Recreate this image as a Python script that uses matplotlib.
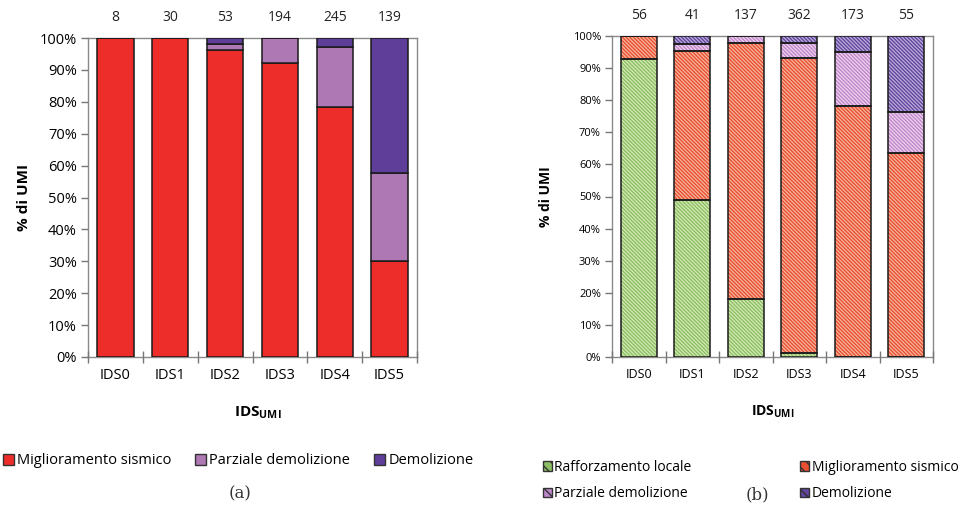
import matplotlib
matplotlib.use("Agg")
import matplotlib.pyplot as plt
import numpy as np
from matplotlib.patches import Patch
from matplotlib.ticker import FixedLocator, PercentFormatter

plt.rcParams['font.family'] = ['Open Sans', 'DejaVu Sans']
plt.rcParams['mathtext.fontset'] = 'custom'
plt.rcParams['mathtext.bf'] = 'Open Sans:bold'
plt.rcParams['mathtext.rm'] = 'Open Sans'
plt.rcParams['hatch.linewidth'] = 1.0

categories = ["IDS0", "IDS1", "IDS2", "IDS3", "IDS4", "IDS5"]

# (a) number of UMI per intervention type
a_labels = ["Miglioramento sismico", "Parziale demolizione", "Demolizione"]
a_miglioramento = [8, 30, 51, 179, 192, 42]
a_parziale = [0, 0, 1, 15, 46, 38]
a_demolizione = [0, 0, 1, 0, 7, 59]
a_colors = ["#EC2D2A", "#AE78B5", "#5E3E99"]

# (b) number of UMI per intervention type
b_labels = ["Rafforzamento locale", "Miglioramento sismico",
            "Parziale demolizione", "Demolizione"]
b_rafforzamento = [52, 20, 25, 5, 0, 0]
b_miglioramento = [4, 19, 109, 332, 135, 35]
b_parziale = [0, 1, 3, 17, 29, 7]
b_demolizione = [0, 1, 0, 8, 9, 13]
b_face = ["#D6EAB8", "#F7B7A2", "#EFD3EC", "#BDAEDA"]
b_hatch = ["#8CBF63", "#E8502F", "#BF88CC", "#62469F"]

fig = plt.figure(figsize=(9.61, 5.09), dpi=100)
fig.patch.set_facecolor("white")

def style_axes(ax, ytick_size, xtick_size):
    ax.set_xlim(-0.5, 5.5)
    ax.set_ylim(0, 100)
    ax.yaxis.set_major_locator(FixedLocator(np.arange(0, 101, 10)))
    ax.yaxis.set_major_formatter(PercentFormatter(decimals=0))
    ax.set_xticks(range(len(categories)))
    ax.set_xticklabels(categories, fontsize=xtick_size)
    ax.xaxis.set_minor_locator(FixedLocator(np.arange(-0.5, 5.6, 1.0)))
    ax.tick_params(axis='x', which='major', length=0, pad=8)
    ax.tick_params(axis='x', which='minor', length=8, direction='inout',
                   color="#777777", width=1.0)
    ax.tick_params(axis='y', length=5, direction='out', color="#777777",
                   width=1.0, labelsize=ytick_size, pad=3)
    for s in ax.spines.values():
        s.set_color("#8a8a8a")
        s.set_linewidth(1.0)
    ax.set_axisbelow(False)

# ---------- (a) ----------
ax1 = fig.add_axes([88/961, 1-357/509, 329/961, 319/509])
x = np.arange(len(categories))
a_series = [np.array(a_miglioramento), np.array(a_parziale), np.array(a_demolizione)]
a_total = sum(a_series)
bottom = np.zeros(len(categories))
for vals, col in zip(a_series, a_colors):
    pct = vals / a_total * 100
    ax1.bar(x, pct, width=0.66, bottom=bottom, color=col,
            edgecolor="#1a1a1a", linewidth=1.1, zorder=3)
    bottom += pct
style_axes(ax1, 10.5, 10.5)
for i, t in enumerate(a_total):
    ax1.text(i, 104, str(t), ha='center', va='bottom', fontsize=10,
             color="#222222")
ax1.set_ylabel("% di UMI", fontsize=11, fontweight='bold', labelpad=6)
fig.text(258/961, 1-413/509, r"$\mathbf{IDS}_{\mathbf{UMI}}$", ha='center',
         va='center', fontsize=11)
a_handles = [Patch(facecolor=c, edgecolor="#333333", linewidth=1.0)
             for c in a_colors]
fig.legend(a_handles, a_labels, loc='center',
           bbox_to_anchor=(238/961, 1-461/509), ncol=3, frameon=False,
           fontsize=10.5, handlelength=0.75, handleheight=0.75,
           handletextpad=0.25, columnspacing=1.6)
fig.text(240/961, 1-494/509, "(a)", ha='center', va='center', fontsize=12,
         family="DejaVu Serif", color="#333333")

# ---------- (b) ----------
ax2 = fig.add_axes([612/961, 1-357.3/509, 321/961, 321.6/509])
b_series = [np.array(b_rafforzamento), np.array(b_miglioramento),
            np.array(b_parziale), np.array(b_demolizione)]
b_total = sum(b_series)
bottom = np.zeros(len(categories))
hatch = "\\" * 9
for vals, fc, hc in zip(b_series, b_face, b_hatch):
    pct = vals / b_total * 100
    ax2.bar(x, pct, width=0.665, bottom=bottom, color=fc, hatch=hatch,
            edgecolor=hc, linewidth=0, zorder=3)
    ax2.bar(x, pct, width=0.665, bottom=bottom, fill=False,
            edgecolor="#1a1a1a", linewidth=1.1, zorder=4)
    bottom += pct
style_axes(ax2, 8, 9)
for i, t in enumerate(b_total):
    ax2.text(i, 104, str(t), ha='center', va='bottom', fontsize=10,
             color="#222222")
ax2.set_ylabel("% di UMI", fontsize=10, fontweight='bold', labelpad=14)
fig.text(773/961, 1-412/509, r"$\mathbf{IDS}_{\mathbf{UMI}}$", ha='center',
         va='center', fontsize=10)
b_handles = [Patch(facecolor=hc, edgecolor="#333333", hatch="\\\\\\",
                   linewidth=1.0) for hc in b_hatch]
order = [0, 2, 1, 3]
leg = fig.legend([b_handles[i] for i in order], [b_labels[i] for i in order],
                 loc='upper left', bbox_to_anchor=(543/961, 1-460/509),
                 ncol=2, frameon=False, fontsize=10, handlelength=0.65,
                 handleheight=0.65, handletextpad=0.15, columnspacing=7.85,
                 labelspacing=0.8, borderaxespad=0, borderpad=0)
fig.text(757/961, 1-495/509, "(b)", ha='center', va='center', fontsize=12,
         family="DejaVu Serif", color="#333333")

fig.savefig("out.png", dpi=100, facecolor="white")
